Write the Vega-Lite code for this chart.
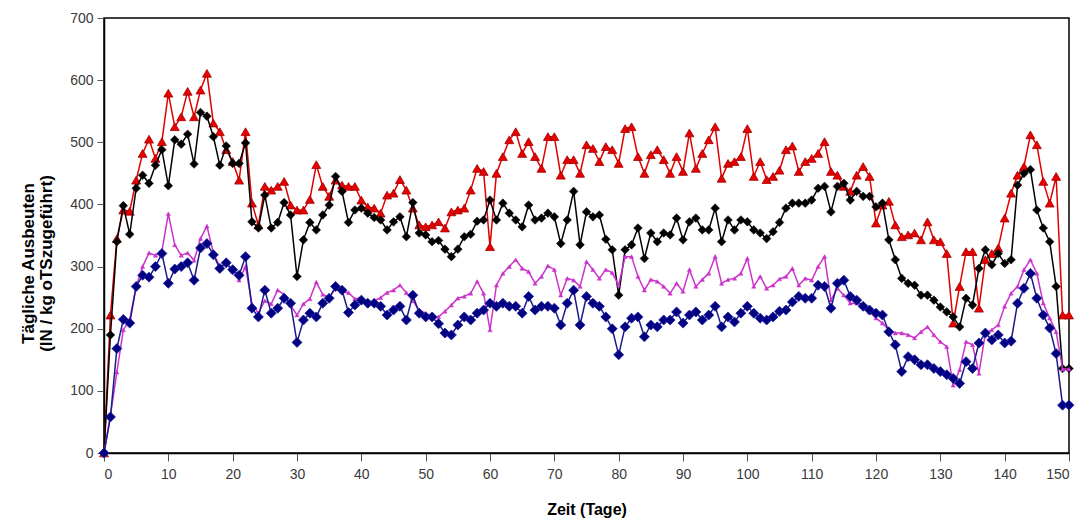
{
  "$schema": "https://vega.github.io/schema/vega-lite/v6.json",
  "width": 965,
  "height": 435,
  "autosize": {"type": "none"},
  "padding": {"left": 104, "top": 18, "right": 23, "bottom": 71},
  "background": "white",
  "config": {
    "view": {"stroke": "black", "strokeWidth": 1.5},
    "axis": {
      "domainColor": "black",
      "domainWidth": 1.5,
      "tickColor": "#555555",
      "tickSize": 7,
      "grid": false,
      "labelFont": "Liberation Sans, Arial",
      "labelFontSize": 14,
      "labelColor": "#3a3a3a",
      "titleFont": "Liberation Sans, Arial",
      "titleFontWeight": "bold",
      "titleColor": "black"
    }
  },
  "data": {"values": [
    {"d":0,"R":0,"B":0,"M":0,"N":0},
    {"d":1,"R":222,"B":190,"M":60,"N":58},
    {"d":2,"R":345,"B":340,"M":130,"N":168},
    {"d":3,"R":391,"B":398,"M":198,"N":215},
    {"d":4,"R":389,"B":352,"M":215,"N":209},
    {"d":5,"R":439,"B":426,"M":268,"N":268},
    {"d":6,"R":482,"B":447,"M":300,"N":286},
    {"d":7,"R":505,"B":434,"M":322,"N":283},
    {"d":8,"R":474,"B":463,"M":318,"N":300},
    {"d":9,"R":501,"B":488,"M":325,"N":321},
    {"d":10,"R":579,"B":430,"M":385,"N":273},
    {"d":11,"R":525,"B":504,"M":335,"N":296},
    {"d":12,"R":541,"B":497,"M":318,"N":300},
    {"d":13,"R":582,"B":513,"M":322,"N":306},
    {"d":14,"R":541,"B":465,"M":310,"N":278},
    {"d":15,"R":584,"B":548,"M":345,"N":330},
    {"d":16,"R":611,"B":542,"M":365,"N":337},
    {"d":17,"R":531,"B":509,"M":322,"N":319},
    {"d":18,"R":517,"B":463,"M":300,"N":297},
    {"d":19,"R":488,"B":494,"M":305,"N":306},
    {"d":20,"R":469,"B":466,"M":292,"N":295},
    {"d":21,"R":439,"B":466,"M":278,"N":286},
    {"d":22,"R":517,"B":499,"M":300,"N":316},
    {"d":23,"R":402,"B":372,"M":240,"N":233},
    {"d":24,"R":367,"B":362,"M":225,"N":219},
    {"d":25,"R":429,"B":415,"M":245,"N":262},
    {"d":26,"R":423,"B":362,"M":240,"N":225},
    {"d":27,"R":429,"B":371,"M":262,"N":233},
    {"d":28,"R":437,"B":403,"M":255,"N":249},
    {"d":29,"R":399,"B":383,"M":238,"N":241},
    {"d":30,"R":391,"B":284,"M":222,"N":178},
    {"d":31,"R":391,"B":343,"M":240,"N":214},
    {"d":32,"R":408,"B":371,"M":248,"N":225},
    {"d":33,"R":464,"B":359,"M":275,"N":219},
    {"d":34,"R":429,"B":383,"M":255,"N":241},
    {"d":35,"R":413,"B":399,"M":250,"N":249},
    {"d":36,"R":439,"B":445,"M":265,"N":268},
    {"d":37,"R":431,"B":421,"M":260,"N":262},
    {"d":38,"R":429,"B":371,"M":258,"N":226},
    {"d":39,"R":429,"B":391,"M":248,"N":238},
    {"d":40,"R":407,"B":394,"M":250,"N":246},
    {"d":41,"R":396,"B":386,"M":242,"N":241},
    {"d":42,"R":394,"B":379,"M":245,"N":241},
    {"d":43,"R":386,"B":375,"M":250,"N":236},
    {"d":44,"R":415,"B":359,"M":258,"N":222},
    {"d":45,"R":418,"B":372,"M":262,"N":230},
    {"d":46,"R":440,"B":380,"M":270,"N":236},
    {"d":47,"R":423,"B":348,"M":258,"N":214},
    {"d":48,"R":394,"B":403,"M":245,"N":254},
    {"d":49,"R":367,"B":354,"M":230,"N":225},
    {"d":50,"R":364,"B":351,"M":225,"N":219},
    {"d":51,"R":367,"B":340,"M":220,"N":219},
    {"d":52,"R":372,"B":342,"M":219,"N":208},
    {"d":53,"R":362,"B":328,"M":228,"N":193},
    {"d":54,"R":388,"B":316,"M":238,"N":190},
    {"d":55,"R":391,"B":328,"M":249,"N":206},
    {"d":56,"R":394,"B":348,"M":252,"N":219},
    {"d":57,"R":423,"B":352,"M":257,"N":214},
    {"d":58,"R":458,"B":373,"M":276,"N":225},
    {"d":59,"R":453,"B":375,"M":257,"N":230},
    {"d":60,"R":332,"B":407,"M":198,"N":241},
    {"d":61,"R":450,"B":375,"M":270,"N":236},
    {"d":62,"R":477,"B":402,"M":289,"N":241},
    {"d":63,"R":504,"B":386,"M":300,"N":236},
    {"d":64,"R":517,"B":375,"M":311,"N":236},
    {"d":65,"R":482,"B":364,"M":297,"N":225},
    {"d":66,"R":501,"B":399,"M":292,"N":252},
    {"d":67,"R":477,"B":375,"M":273,"N":230},
    {"d":68,"R":458,"B":378,"M":284,"N":236},
    {"d":69,"R":509,"B":386,"M":301,"N":236},
    {"d":70,"R":509,"B":380,"M":295,"N":233},
    {"d":71,"R":447,"B":337,"M":254,"N":206},
    {"d":72,"R":472,"B":375,"M":281,"N":241},
    {"d":73,"R":472,"B":421,"M":278,"N":262},
    {"d":74,"R":450,"B":335,"M":268,"N":206},
    {"d":75,"R":496,"B":388,"M":308,"N":252},
    {"d":76,"R":490,"B":380,"M":295,"N":241},
    {"d":77,"R":469,"B":383,"M":281,"N":236},
    {"d":78,"R":493,"B":344,"M":295,"N":219},
    {"d":79,"R":488,"B":327,"M":290,"N":200},
    {"d":80,"R":466,"B":254,"M":270,"N":158},
    {"d":81,"R":522,"B":327,"M":316,"N":203},
    {"d":82,"R":525,"B":335,"M":316,"N":217},
    {"d":83,"R":477,"B":362,"M":284,"N":219},
    {"d":84,"R":450,"B":313,"M":262,"N":187},
    {"d":85,"R":480,"B":354,"M":279,"N":206},
    {"d":86,"R":488,"B":340,"M":276,"N":203},
    {"d":87,"R":472,"B":354,"M":268,"N":214},
    {"d":88,"R":450,"B":351,"M":257,"N":214},
    {"d":89,"R":477,"B":378,"M":273,"N":227},
    {"d":90,"R":453,"B":343,"M":260,"N":209},
    {"d":91,"R":515,"B":372,"M":295,"N":222},
    {"d":92,"R":458,"B":378,"M":268,"N":227},
    {"d":93,"R":482,"B":359,"M":279,"N":214},
    {"d":94,"R":504,"B":359,"M":289,"N":222},
    {"d":95,"R":525,"B":394,"M":316,"N":236},
    {"d":96,"R":442,"B":340,"M":273,"N":203},
    {"d":97,"R":466,"B":375,"M":279,"N":219},
    {"d":98,"R":469,"B":359,"M":281,"N":211},
    {"d":99,"R":477,"B":375,"M":289,"N":225},
    {"d":100,"R":522,"B":372,"M":313,"N":236},
    {"d":101,"R":445,"B":359,"M":268,"N":225},
    {"d":102,"R":469,"B":354,"M":284,"N":217},
    {"d":103,"R":440,"B":345,"M":265,"N":214},
    {"d":104,"R":445,"B":356,"M":270,"N":219},
    {"d":105,"R":455,"B":371,"M":280,"N":228},
    {"d":106,"R":488,"B":394,"M":284,"N":230},
    {"d":107,"R":494,"B":402,"M":297,"N":243},
    {"d":108,"R":453,"B":402,"M":270,"N":252},
    {"d":109,"R":469,"B":402,"M":281,"N":249},
    {"d":110,"R":474,"B":407,"M":278,"N":249},
    {"d":111,"R":482,"B":426,"M":300,"N":270},
    {"d":112,"R":501,"B":429,"M":316,"N":268},
    {"d":113,"R":453,"B":388,"M":246,"N":233},
    {"d":114,"R":447,"B":429,"M":265,"N":273},
    {"d":115,"R":429,"B":434,"M":254,"N":278},
    {"d":116,"R":421,"B":407,"M":241,"N":252},
    {"d":117,"R":447,"B":421,"M":241,"N":246},
    {"d":118,"R":461,"B":413,"M":236,"N":236},
    {"d":119,"R":445,"B":413,"M":227,"N":230},
    {"d":120,"R":370,"B":396,"M":217,"N":225},
    {"d":121,"R":399,"B":402,"M":209,"N":222},
    {"d":122,"R":405,"B":343,"M":198,"N":195},
    {"d":123,"R":367,"B":311,"M":193,"N":174},
    {"d":124,"R":348,"B":281,"M":193,"N":131},
    {"d":125,"R":351,"B":273,"M":190,"N":155},
    {"d":126,"R":354,"B":270,"M":185,"N":150},
    {"d":127,"R":343,"B":254,"M":195,"N":142},
    {"d":128,"R":372,"B":254,"M":203,"N":142},
    {"d":129,"R":343,"B":246,"M":190,"N":136},
    {"d":130,"R":340,"B":235,"M":179,"N":131},
    {"d":131,"R":321,"B":227,"M":171,"N":126},
    {"d":132,"R":209,"B":219,"M":109,"N":120},
    {"d":133,"R":268,"B":203,"M":134,"N":112},
    {"d":134,"R":324,"B":249,"M":179,"N":147},
    {"d":135,"R":324,"B":238,"M":174,"N":136},
    {"d":136,"R":233,"B":297,"M":128,"N":177},
    {"d":137,"R":311,"B":327,"M":193,"N":193},
    {"d":138,"R":321,"B":303,"M":198,"N":182},
    {"d":139,"R":330,"B":321,"M":206,"N":190},
    {"d":140,"R":378,"B":305,"M":236,"N":177},
    {"d":141,"R":418,"B":311,"M":257,"N":180},
    {"d":142,"R":447,"B":431,"M":268,"N":241},
    {"d":143,"R":461,"B":450,"M":295,"N":265},
    {"d":144,"R":512,"B":456,"M":311,"N":289},
    {"d":145,"R":496,"B":391,"M":289,"N":249},
    {"d":146,"R":437,"B":362,"M":241,"N":222},
    {"d":147,"R":402,"B":340,"M":217,"N":201},
    {"d":148,"R":445,"B":268,"M":195,"N":160},
    {"d":149,"R":222,"B":136,"M":135,"N":77},
    {"d":150,"R":222,"B":136,"M":135,"N":77}
  ]},
  "encoding": {
    "x": {
      "field": "d",
      "type": "quantitative",
      "scale": {"domain": [0, 150], "nice": false},
      "axis": {"values": [0,10,20,30,40,50,60,70,80,90,100,110,120,130,140,150], "title": "Zeit (Tage)", "titleFontSize": 16, "titlePadding": 20, "labelPadding": 6, "tickSize": 8}
    }
  },
  "layer": [
    {
      "mark": {"type": "line", "color": "#e00000", "strokeWidth": 1.5,
        "point": {"shape": "triangle-up", "size": 80, "filled": true, "fill": "#e80000", "stroke": "#a00000", "strokeWidth": 0.8}},
      "encoding": {
        "y": {"field": "R", "type": "quantitative", "scale": {"domain": [0, 700], "nice": false},
          "axis": {"values": [0,100,200,300,400,500,600,700], "title": ["Tägliche Ausbeuten", "(lN / kg oTSzugeführt)"], "titleFontSize": 17, "titleLineHeight": 18, "titlePadding": 14, "labelPadding": 4, "titleY": 245}}
      }
    },
    {
      "mark": {"type": "line", "color": "black", "strokeWidth": 1.5,
        "point": {"shape": "diamond", "size": 75, "filled": true, "fill": "black", "stroke": "black", "strokeWidth": 0.5}},
      "encoding": {"y": {"field": "B", "type": "quantitative",
          "axis": {"values": [0,100,200,300,400,500,600,700], "title": ["Tägliche Ausbeuten", "(lN / kg oTSzugeführt)"], "titleFontSize": 17, "titleLineHeight": 18, "titlePadding": 14, "labelPadding": 4, "titleY": 245}}}
    },
    {
      "mark": {"type": "line", "color": "#cc33cc", "strokeWidth": 1.5,
        "point": {"shape": "triangle-up", "size": 18, "filled": true, "fill": "#cc33cc", "stroke": "#cc33cc", "strokeWidth": 0.5}},
      "encoding": {"y": {"field": "M", "type": "quantitative",
          "axis": {"values": [0,100,200,300,400,500,600,700], "title": ["Tägliche Ausbeuten", "(lN / kg oTSzugeführt)"], "titleFontSize": 17, "titleLineHeight": 18, "titlePadding": 14, "labelPadding": 4, "titleY": 245}}}
    },
    {
      "mark": {"type": "line", "color": "#1a1a8c", "strokeWidth": 1.5,
        "point": {"shape": "diamond", "size": 100, "filled": true, "fill": "#000080", "stroke": "#2020a0", "strokeWidth": 0.8}},
      "encoding": {"y": {"field": "N", "type": "quantitative",
          "axis": {"values": [0,100,200,300,400,500,600,700], "title": ["Tägliche Ausbeuten", "(lN / kg oTSzugeführt)"], "titleFontSize": 17, "titleLineHeight": 18, "titlePadding": 14, "labelPadding": 4, "titleY": 245}}}
    }
  ]
}
